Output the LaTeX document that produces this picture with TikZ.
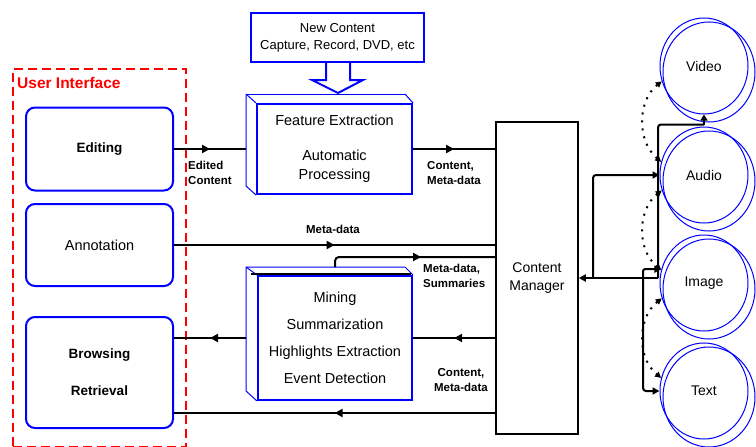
\documentclass[tikz,border=0pt]{standalone}
\usepackage{fontspec}
\setmainfont{Liberation Sans}
\usetikzlibrary{arrows.meta,decorations.markings,shapes.geometric,calc}
\tikzset{
  uibox/.style={draw=blue, line width=2pt, rounded corners=9pt, minimum width=147pt, align=center, inner sep=0pt},
  procbox/.style={draw=blue, line width=2pt, fill=white, align=center, inner sep=0pt},
  backpanel/.style={draw=blue, line width=1pt},
  conn/.style={line width=2pt},
  tip/.style={-{Triangle[length=7pt,width=7pt]}},
  uptip/.style={-{Triangle[length=6pt,width=7pt]}},
  midarrow/.style={postaction={decorate}, decoration={markings, mark=at position #1 with {\arrow{Triangle[length=8pt,width=8pt]}}}},
  midarrow/.default=0.5,
  elabel/.style={font=\bfseries\fontsize{11.5}{15}\selectfont, inner sep=0pt},
  media/.style={ellipse, draw=blue, line width=1pt, minimum width=88pt, minimum height=96pt, inner sep=0pt, font=\fontsize{14}{16}\selectfont},
  mediaback/.style={draw=blue, line width=1pt},
  dotlink/.style={line width=2pt, dash pattern=on 2pt off 6pt, {Triangle[length=6pt,width=6pt]}-{Triangle[length=6pt,width=6pt]}},
}
\begin{document}
\begin{tikzpicture}[x=1pt,y=-1pt]
\path[use as bounding box] (0,0) rectangle (756,447);

% User interface group
\node[draw=red, line width=2pt, dash pattern=on 9pt off 5pt, minimum width=173pt, minimum height=378pt, anchor=north west, inner sep=0pt] (ui) at (12,68) {};
\node[text=red, anchor=west, inner sep=0pt, font=\bfseries\fontsize{15.5}{16}\selectfont] (uititle) at (17,83) {User Interface};

\node[uibox, minimum height=83pt, font=\bfseries\fontsize{13.5}{16}\selectfont] (edit) at (99.5,149) {Editing};
\node[uibox, minimum height=82pt, font=\fontsize{14.5}{16}\selectfont] (annot) at (99.5,245) {Annotation};
\node[uibox, minimum height=111pt, font=\bfseries\fontsize{13.5}{37}\selectfont] (browse) at (99.5,372.5) {Browsing\\Retrieval};

% New content box with block arrow
\draw[blue, line width=2pt, fill=white, line join=miter]
  (326,62) -- (326,80) -- (312,80) -- (338,93) -- (363,80) -- (350,80) -- (350,62);
\node[procbox, minimum width=173pt, minimum height=49pt, font=\fontsize{13}{17}\selectfont] (newc) at (337.5,37.5) {New Content\\Capture, Record, DVD, etc};

% Feature extraction box
\node[procbox, minimum width=155pt, minimum height=90pt, font=\fontsize{14.5}{19}\selectfont] (feat) at (334.5,149) {Feature Extraction\\[16pt]Automatic\\Processing};
\draw[backpanel] ($(feat.north east)+(-8,-9)$) -- (feat.north east);
\draw[backpanel] ($(feat.north west)+(-10,-9)$) -- ($(feat.north east)+(-8,-9)$);
\draw[backpanel] ($(feat.north west)+(-10,-9)$) -- ($(feat.south west)+(-10,-9)$) -- (feat.south west);
\draw[backpanel] ($(feat.north west)+(-10,-9)$) -- (feat.north west);

% Mining box
\node[procbox, minimum width=154pt, minimum height=124pt, font=\fontsize{14.5}{27}\selectfont] (mining) at (335,338) {Mining\\Summarization\\Highlights Extraction\\Event Detection};
\draw[backpanel] ($(mining.north west)+(-11,-8)$) -- ($(mining.north east)+(-8,-8)$) -- (mining.north east);
\draw[backpanel] ($(mining.north west)+(-11,-8)$) -- ($(mining.south west)+(-11,-10)$) -- (mining.south west);
\draw[backpanel] ($(mining.north west)+(-11,-8)$) -- (mining.north west);
\draw[line width=2pt] ($(mining.north west)+(-6,-1)$) -- ($(mining.north east)+(-2,-1)$);

% Content manager
\node[draw, line width=1.5pt, minimum width=82pt, minimum height=312pt, align=center, inner sep=0pt, font=\fontsize{14}{18}\selectfont] (cm) at (537,278) {Content\\Manager};

% Left connectors
\draw[conn, midarrow] (edit.east) -- ($(feat.west)+(-10,0)$);
\draw[conn, midarrow] (feat.east) -- (feat.east -| cm.west);
\draw[conn, midarrow] (annot.east) -- (annot.east -| cm.west);
\coordinate (msTop) at ($(mining.north)+(0,-8)$);
\draw[conn, rounded corners=4pt, midarrow=0.56] (msTop) |- (cm.west |- 0,257);
\draw[conn, midarrow] (cm.west |- mining.east) -- (mining.east);
\draw[conn, midarrow] ($(mining.west)+(-11,0)$) -- (mining.west -| browse.east);
\draw[conn, midarrow] (cm.west |- 0,413) -- (browse.east |- 0,413);

% Labels
\node[elabel, anchor=north west, align=left] at (188,161) {Edited\\Content};
\node[elabel, anchor=north west, align=left] at (427,161) {Content,\\Meta-data};
\node[elabel] at (333,229) {Meta-data};
\node[elabel, anchor=north west, align=left] at (423,264) {Meta-data,\\Summaries};
\node[elabel, align=center] at (461,380) {Content,\\Meta-data};

% Media
\node[media] (vid) at (704,66) {Video};
\node[media] (aud) at (704,175) {Audio};
\node[media] (img) at (704,283) {Image};
\node[media] (txt) at (704,391) {Text};
\draw[mediaback] ($(vid)+(5,6)$) ellipse [x radius=46, y radius=50];
\draw[mediaback] ($(aud)+(5,6)$) ellipse [x radius=46, y radius=50];
\draw[mediaback] ($(img)+(5,6)$) ellipse [x radius=46, y radius=50];
\draw[mediaback] ($(txt)+(5,6)$) ellipse [x radius=46, y radius=50];

% Right connectors
\coordinate (bus) at (658,278);
\coordinate (jA) at (593,278);
\coordinate (jT) at (643,278);
\coordinate (vidIn) at ($(vid.south)+(0,10)$);
\draw[conn, -{Triangle[length=7pt,width=7pt]}] (bus) -- (cm.east);
\draw[conn, rounded corners=3pt] (bus) |- (vidIn);
\draw[conn, uptip] (vidIn) -- (vid.south);
\draw[conn, rounded corners=3pt, tip] (jA) |- (aud.west);
\draw[conn, rounded corners=2pt, tip] (jT) |- (img.162);
\draw[conn, rounded corners=3pt, tip] (jT) |- (txt.west);

\draw[dotlink] (vid.200) .. controls (638,100) and (636,140) .. (aud.163);
\draw[dotlink] (aud.200) .. controls (638,209) and (636,249) .. (img.163);
\draw[dotlink] (img.200) .. controls (638,317) and (636,357) .. (txt.163);
\end{tikzpicture}
\end{document}
